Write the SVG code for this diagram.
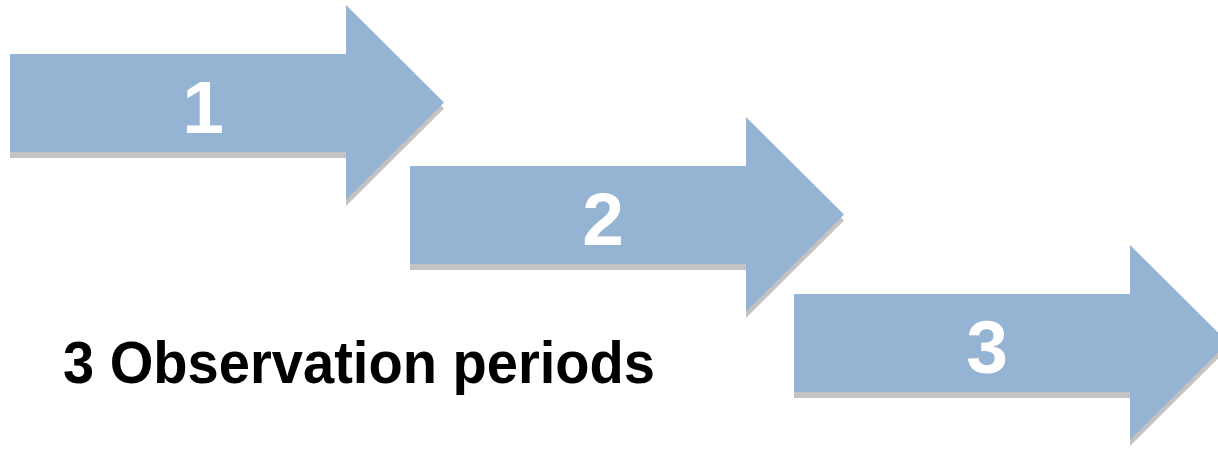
<svg xmlns="http://www.w3.org/2000/svg" width="1218" height="449" viewBox="0 0 1218 449">
<style>
.arrow{fill:#95B3D3}
.shadow{fill:#C3C3C3}
.num{font-family:"Liberation Sans","DejaVu Sans",sans-serif;font-weight:bold;font-size:75px;fill:#FFFFFF;text-anchor:middle}
.label{font-family:"Liberation Sans","DejaVu Sans",sans-serif;font-weight:bold;font-size:59px;fill:#000000}
</style>
<defs>
<path id="arr" d="M0,49 H336 V0 L434,97.5 L336,195 V147 H0 Z"/>
</defs>
<rect width="1218" height="449" fill="#FFFFFF"/>
<g id="arrow1" transform="translate(10,5)">
<use href="#arr" class="shadow" transform="translate(0,6)"/>
<use href="#arr" class="arrow"/>
<text class="num" x="193" y="128">1</text>
</g>
<g id="arrow2" transform="translate(410,117)">
<use href="#arr" class="shadow" transform="translate(0,6)"/>
<use href="#arr" class="arrow"/>
<text class="num" x="193" y="128">2</text>
</g>
<g id="arrow3" transform="translate(794,245)">
<use href="#arr" class="shadow" transform="translate(0,6)"/>
<use href="#arr" class="arrow"/>
<text class="num" x="193" y="128">3</text>
</g>
<g id="label">
<text class="label" x="63" y="383" textLength="592" lengthAdjust="spacingAndGlyphs">3 Observation periods</text>
</g>
</svg>
